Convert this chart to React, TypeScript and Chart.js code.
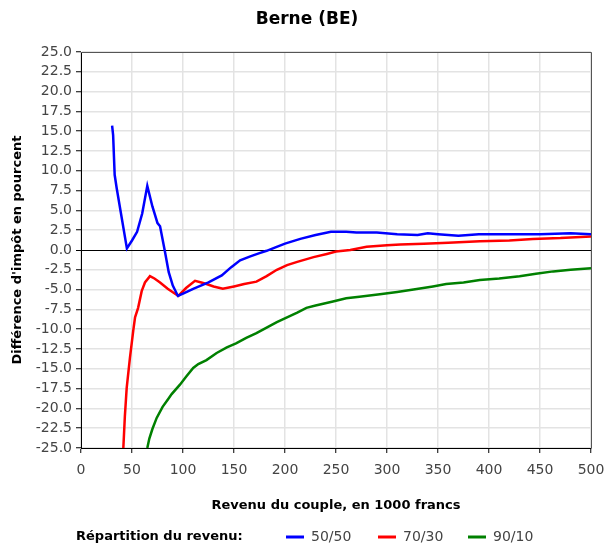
import React, { useEffect, useRef } from "react";
import { Chart, registerables } from "chart.js";

Chart.register(...registerables);

const TITLE = "Berne (BE)";
const X_TITLE = "Revenu du couple, en 1000 francs";
const Y_TITLE = "Différence d'impôt en pourcent";
const LEGEND_TITLE = "Répartition du revenu:";

const SERIES_LABELS = ["50/50", "70/30", "90/10"];
const SERIES_COLORS = ["#0000ff", "#ff0000", "#008000"];

const X_MIN = 0;
const X_MAX = 500;
const X_STEP = 50;
const Y_MIN = -25;
const Y_MAX = 25;
const Y_STEP = 2.5;

// 50/50
const blueX = [30.5, 31.5, 33, 35, 45, 50, 55, 60, 65, 70, 75, 77.5, 82, 86, 90, 95, 100, 110, 125, 138, 147, 156, 166, 175, 182, 190, 200, 215, 230, 245, 260, 270, 290, 310, 330, 340, 350, 370, 390, 420, 450, 480, 500];
const blueY = [15.7, 14.5, 9.5, 7.8, 0.2, 1.2, 2.3, 4.6, 8.1, 5.5, 3.4, 3.0, 0.0, -2.8, -4.5, -5.8, -5.5, -4.9, -4.1, -3.2, -2.2, -1.3, -0.8, -0.4, -0.1, 0.3, 0.8, 1.4, 1.9, 2.3, 2.3, 2.2, 2.2, 2.0, 1.9, 2.1, 2.0, 1.8, 2.0, 2.0, 2.0, 2.1, 2.0];

// 70/30
const redX = [41.5, 43, 44.8, 48, 51.2, 53, 56, 59.5, 62.7, 67.6, 72, 77.5, 85, 95.4, 103, 111.8, 118, 123, 130, 139, 150, 160, 172, 182, 192, 202, 212, 228, 241, 250, 264, 280, 300, 313, 336, 360, 391, 420, 443, 470, 500];
const redY = [-25, -21, -17.4, -13.6, -10.2, -8.5, -7.3, -5.2, -4.1, -3.3, -3.6, -4.1, -4.9, -5.8, -4.8, -3.9, -4.1, -4.3, -4.6, -4.9, -4.6, -4.3, -4.0, -3.3, -2.5, -1.9, -1.5, -0.9, -0.5, -0.2, 0.0, 0.4, 0.6, 0.7, 0.8, 0.9, 1.1, 1.2, 1.4, 1.5, 1.7];

// 90/10
const greenX = [65, 67, 70, 74.2, 80, 85, 88.9, 97, 103, 110, 115, 123, 133, 143, 152, 162, 172, 182, 192, 202, 212, 221, 230, 247, 260, 273, 293, 310, 326, 345, 358, 375, 391, 410, 430, 446, 463, 480, 500];
const greenY = [-25, -23.8, -22.6, -21.2, -19.8, -18.9, -18.2, -17, -16, -14.9, -14.4, -13.9, -13, -12.3, -11.8, -11.1, -10.5, -9.8, -9.1, -8.5, -7.9, -7.3, -7.0, -6.5, -6.1, -5.9, -5.6, -5.3, -5.0, -4.6, -4.3, -4.1, -3.8, -3.6, -3.3, -3.0, -2.7, -2.5, -2.3];

const SERIES_X = [blueX, redX, greenX];
const SERIES_Y = [blueY, redY, greenY];

const FONT = '"DejaVu Sans", sans-serif';

const decorPlugin = {
  id: "decor",
  afterDraw(chart: any) {
    const { ctx, chartArea: a, width } = chart;
    ctx.save();
    // top & right frame
    ctx.strokeStyle = "#555";
    ctx.lineWidth = 1;
    ctx.beginPath();
    ctx.moveTo(a.left, a.top + 0.5);
    ctx.lineTo(a.right + 0.5, a.top + 0.5);
    ctx.lineTo(a.right + 0.5, a.bottom);
    ctx.stroke();

    // title
    ctx.fillStyle = "#000";
    ctx.font = `bold 17px ${FONT}`;
    ctx.textAlign = "center";
    ctx.textBaseline = "middle";
    ctx.fillText(TITLE, width / 2, 20);

    // legend
    const ly = 537;
    ctx.textAlign = "left";
    ctx.font = `bold 13px ${FONT}`;
    ctx.fillText(LEGEND_TITLE, 76, ly);
    const itemX = [286, 378, 468];
    chart.data.datasets.forEach((ds: any, i: number) => {
      const x0 = itemX[i];
      ctx.strokeStyle = ds.borderColor;
      ctx.lineWidth = 3;
      ctx.beginPath();
      ctx.moveTo(x0, ly);
      ctx.lineTo(x0 + 18, ly);
      ctx.stroke();
      ctx.fillStyle = "#444";
      ctx.font = `14px ${FONT}`;
      ctx.fillText(ds.label, x0 + 25, ly);
    });
    ctx.restore();
  },
};

export default function App() {
  const ref = useRef<HTMLCanvasElement | null>(null);

  useEffect(() => {
    document.body.style.margin = "0";
    if (!ref.current) return;
    Chart.defaults.font.family = FONT;
    const datasets = SERIES_LABELS.map((label, i) => ({
      label,
      data: SERIES_X[i].map((x, j) => ({ x, y: SERIES_Y[i][j] })),
      borderColor: SERIES_COLORS[i],
      backgroundColor: SERIES_COLORS[i],
      borderWidth: 2.5,
      pointRadius: 0,
      tension: 0,
      fill: false,
    }));
    const chart = new Chart(ref.current, {
      type: "line",
      data: { datasets },
      plugins: [decorPlugin],
      options: {
        animation: false,
        responsive: true,
        maintainAspectRatio: false,
        layout: { padding: { top: 52, right: 23, left: 0, bottom: 0 } },
        plugins: {
          legend: { display: false },
          title: { display: false },
          tooltip: { enabled: false },
        },
        scales: {
          x: {
            type: "linear",
            min: X_MIN,
            max: X_MAX,
            afterFit: (s: any) => {
              s.height = 104;
            },
            ticks: {
              stepSize: X_STEP,
              color: "#444",
              font: { size: 14, family: FONT },
              padding: 9,
              maxRotation: 0,
            },
            grid: {
              color: "#e3e3e3",
              lineWidth: 1.5,
              tickColor: "#000",
              tickLength: 5,
              tickWidth: 1,
            },
            border: { color: "#000", width: 1 },
            title: {
              display: true,
              text: X_TITLE,
              color: "#000",
              font: { size: 13, weight: "bold", family: FONT },
              padding: { top: 0, bottom: 39 },
            },
          },
          y: {
            type: "linear",
            min: Y_MIN,
            max: Y_MAX,
            afterFit: (s: any) => {
              s.width = 81;
            },
            ticks: {
              stepSize: Y_STEP,
              color: "#444",
              font: { size: 14, family: FONT },
              padding: 4,
              callback: (v: any) => Number(v).toFixed(1),
            },
            grid: {
              color: (c: any) => (c.tick && c.tick.value === 0 ? "#000" : "#e3e3e3"),
              lineWidth: (c: any) => (c.tick && c.tick.value === 0 ? 1 : 1.5),
              tickColor: "#000",
              tickLength: 5,
              tickWidth: 1,
            },
            border: { color: "#000", width: 1 },
            title: {
              display: true,
              text: Y_TITLE,
              color: "#000",
              font: { size: 13, weight: "bold", family: FONT },
              padding: { top: 10, bottom: 0 },
            },
          },
        },
      },
    });
    return () => chart.destroy();
  }, []);

  return (
    <div style={{ width: 614, height: 552, position: "relative" }}>
      <canvas ref={ref} />
    </div>
  );
}
